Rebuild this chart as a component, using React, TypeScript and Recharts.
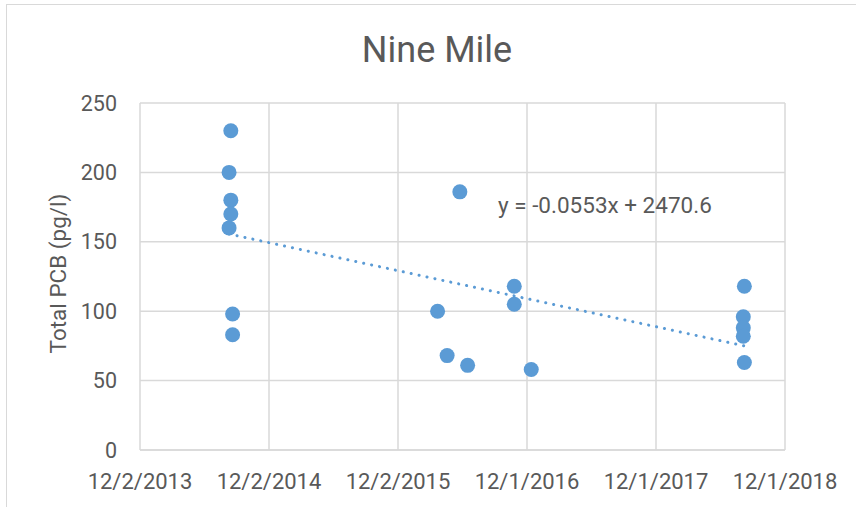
import { ScatterChart, Scatter, XAxis, YAxis, CartesianGrid, ReferenceLine } from "recharts";

// sample dates (ISO) and the matching total PCB values
const sampleDates = [
  "2014-08-11", "2014-08-11",
  "2014-08-16", "2014-08-16", "2014-08-16",
  "2014-08-21", "2014-08-21",
  "2016-03-23", "2016-04-19", "2016-05-25", "2016-06-16",
  "2016-10-26", "2016-10-26", "2016-12-13",
  "2018-08-05", "2018-08-05", "2018-08-05",
  "2018-08-08", "2018-08-08",
];
const pcbValues = [
  200, 160,
  230, 180, 170,
  98, 83,
  100, 68, 186, 61,
  118, 105, 58,
  96, 88, 82,
  118, 63,
];

const xTickDates = ["2013-12-02", "2014-12-02", "2015-12-02", "2016-12-01", "2017-12-01", "2018-12-01"];
const yTicks = [0, 50, 100, 150, 200, 250];

// trendline as printed on the chart
const trendSlope = -0.0553;
const trendIntercept = 2470.6;
const trendLabel = "y = -0.0553x + 2470.6";

const TITLE = "Nine Mile";
const Y_TITLE = "Total PCB (pg/l)";

const BLUE = "#5B9BD5";
const GRID = "#d9d9d9";
const TEXT = "#595959";
const FONT = "Roboto, 'Open Sans', sans-serif";

const EXCEL_EPOCH = Date.UTC(1899, 11, 30);
const DAY = 86400000;

// excel-style serial day number
function serial(iso: string) {
  return (Date.parse(iso + "T00:00:00Z") - EXCEL_EPOCH) / DAY;
}

function fmtSerial(v: number) {
  const d = new Date(EXCEL_EPOCH + v * DAY);
  return `${d.getUTCMonth() + 1}/${d.getUTCDate()}/${d.getUTCFullYear()}`;
}

const points = sampleDates.map((d, i) => ({ x: serial(d), y: pcbValues[i] }));
const xTicks = xTickDates.map(serial);

const xs = points.map((p) => p.x);
const trendStart = Math.min(...xs);
const trendEnd = Math.max(...xs);
const trendSegment = [
  { x: trendStart, y: trendSlope * trendStart + trendIntercept },
  { x: trendEnd, y: trendSlope * trendEnd + trendIntercept },
];

const Dot = (props: any) => {
  const { cx, cy } = props;
  if (cx == null || cy == null) return null;
  return <circle cx={cx} cy={cy} r={7.5} fill={BLUE} />;
};

export default function App() {
  return (
    <div style={{ position: "absolute", left: 0, top: 0, width: 856, height: 507, overflow: "hidden", background: "#fff" }}>
      <div
        style={{
          position: "absolute",
          left: 6,
          top: 4,
          width: 900,
          height: 560,
          border: `1.5px solid ${GRID}`,
        }}
      />
      <div style={{ position: "absolute", left: 0, top: 0 }}>
        <ScatterChart
          width={856}
          height={507}
          margin={{ top: 103, right: 71, bottom: 0, left: 0 }}
          style={{ fontFamily: FONT }}
        >
          <CartesianGrid stroke={GRID} strokeWidth={1.5} />
          <XAxis
            type="number"
            dataKey="x"
            domain={[xTicks[0], xTicks[xTicks.length - 1]]}
            ticks={xTicks}
            interval={0}
            tickFormatter={fmtSerial}
            height={57}
            tickLine={false}
            axisLine={{ stroke: GRID, strokeWidth: 1.5 }}
            tickMargin={17}
            tick={{ fill: TEXT, fontSize: 22, fontFamily: FONT }}
          />
          <YAxis
            type="number"
            dataKey="y"
            domain={[0, 250]}
            ticks={yTicks}
            interval={0}
            width={140}
            tickLine={false}
            axisLine={false}
            tickMargin={17}
            tick={{ fill: TEXT, fontSize: 21.5, fontFamily: FONT }}
            label={{
              value: Y_TITLE,
              angle: -90,
              position: "center",
              dx: -12,
              dy: -3,
              fill: TEXT,
              fontSize: 22.5,
              fontFamily: FONT,
            }}
          />
          <Scatter data={points} fill={BLUE} shape={<Dot />} isAnimationActive={false} />
          <ReferenceLine
            segment={trendSegment}
            stroke={BLUE}
            strokeWidth={3}
            strokeDasharray="0.1 8"
            strokeLinecap="round"
            ifOverflow="visible"
          />
        </ScatterChart>
      </div>
      <svg width={856} height={507} style={{ position: "absolute", left: 0, top: 0, pointerEvents: "none" }}>
        <text x={437} y={62} textAnchor="middle" fontSize={36} fill={TEXT} fontFamily={FONT}>
          {TITLE}
        </text>
        <text x={498} y={212.5} fontSize={22.5} fill={TEXT} fontFamily={FONT}>
          {trendLabel}
        </text>
      </svg>
    </div>
  );
}
